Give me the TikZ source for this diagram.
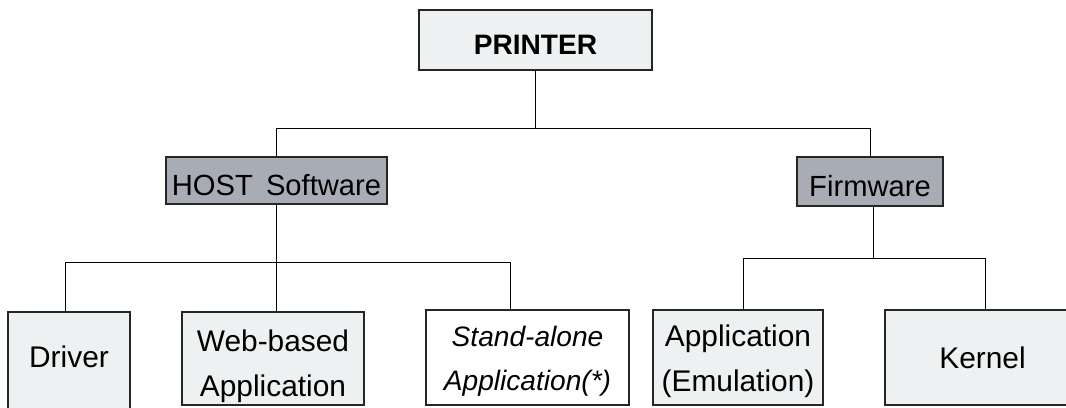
\documentclass[tikz,border=0pt]{standalone}
\usepackage{fontspec}
\setmainfont{Liberation Sans}
\usepackage{tikz}
\usepackage{xcolor}
\usetikzlibrary{positioning}

\definecolor{lightfill}{RGB}{238,241,242}
\definecolor{darkfill}{RGB}{168,172,181}

% two centred lines, optionally lowered inside the box
\newcommand{\twolines}[3][0cm]{\raisebox{-#1}[\height][\depth]{\begin{tabular}{@{}c@{}}#2\\#3\end{tabular}}}

\begin{document}
\begin{tikzpicture}[x=0.02cm, y=-0.02cm,
    box/.style={rectangle, draw=black!85, line width=0.8pt, inner sep=0pt, font=\fontsize{17}{25.6}\selectfont},
    lightbox/.style={box, fill=lightfill},
    darkbox/.style={box, fill=darkfill, font=\fontsize{16.6}{20}\selectfont, text height=0.6cm, text depth=0pt}]
            \useasboundingbox (0, 0) rectangle (1066, 407);
            \clip (0, 0) rectangle (1066, 407);

            \node[lightbox, minimum width=4.66cm, minimum height=1.2cm, font=\fontsize{16}{20}\selectfont\bfseries, text height=0.56cm, text depth=0pt] (printer) at (535.5, 40) {PRINTER};
            \node[darkbox, minimum width=4.42cm, minimum height=0.94cm] (host) at (276.5, 180.5) {HOST\hspace{0.45em}Software};
            \node[darkbox, minimum width=2.92cm, minimum height=0.98cm] (firm) at (870, 181.5) {Firmware};

            \node[lightbox, minimum width=2.44cm, minimum height=2.16cm, text height=0.42cm, text depth=0.36cm] (driver) at (69, 366) {Driver};
            \node[lightbox, minimum width=3.64cm, minimum height=1.86cm] (web) at (273, 358.5) {\twolines[0.13cm]{Web-based}{Application}};
            \node[box, fill=white, minimum width=4.06cm, minimum height=1.9cm, font=\fontsize{16}{25.6}\selectfont\itshape] (stand) at (527.5, 357.5) {\twolines[0.04cm]{Stand-alone}{Application(*)}};
            \node[lightbox, minimum width=3.4cm, minimum height=1.9cm] (app) at (738, 357.5) {\twolines[0.05cm]{Application}{(Emulation)}};
            \node[lightbox, minimum width=3.9cm, minimum height=1.9cm] (kernel) at (982.5, 357.5) {Kernel};

            \coordinate (topbar) at (0, 128);
            \coordinate (hostbar) at (0, 262);
            \coordinate (firmbar) at (0, 258);

            \draw (printer.south) -- (printer.south |- topbar);
            \draw (host.north) |- (firm.north |- topbar) -- (firm.north);

            \draw (host.south) -- (host.south |- web.north);
            \draw ([xshift=-0.08cm]driver.north) |- ([xshift=-0.35cm]stand.north |- hostbar) -- ([xshift=-0.35cm]stand.north);
            \draw ([xshift=0.06cm]firm.south) -- ([xshift=0.06cm]firm.south |- firmbar);
            \draw ([xshift=0.1cm]app.north) |- ([xshift=0.05cm]kernel.north |- firmbar) -- ([xshift=0.05cm]kernel.north);
        \end{tikzpicture}
\end{document}
